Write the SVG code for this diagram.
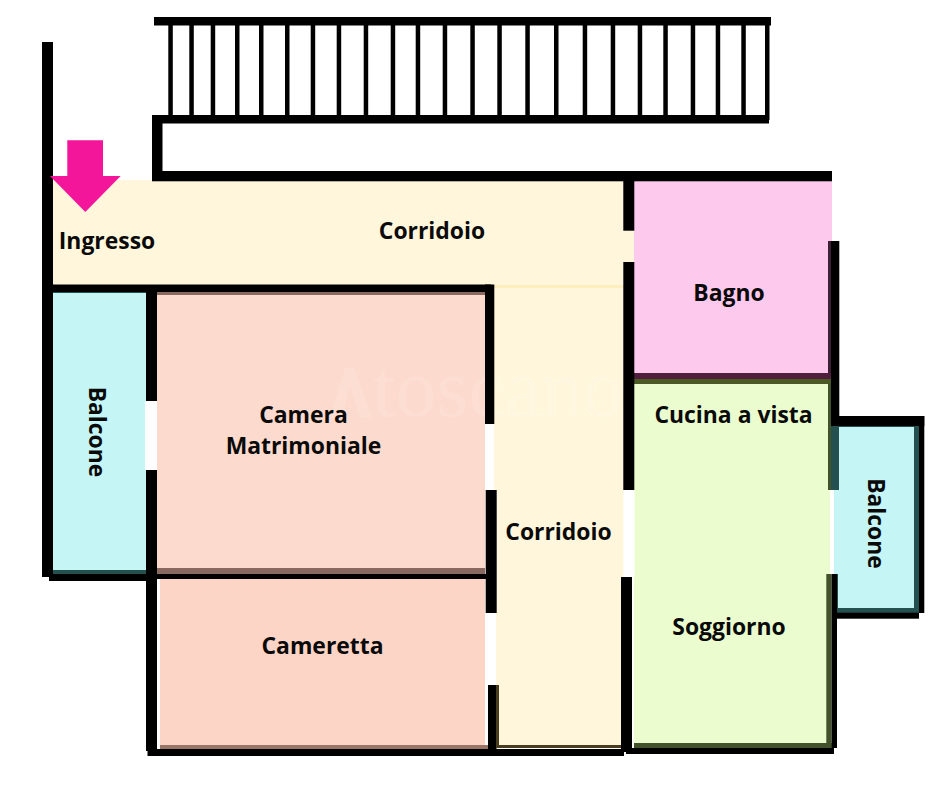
<svg xmlns="http://www.w3.org/2000/svg" width="940" height="788" viewBox="0 0 940 788">
<style>
.w{fill:#000}
.lbl{font-family:"Open Sans","Noto Sans","DejaVu Sans",sans-serif;font-weight:700;font-size:22.9px;fill:#0a0a0a;text-anchor:middle}
.st{fill:#000;y:20px;width:4.5px;height:100px}
</style>
<rect width="940" height="788" fill="#fff"/>
<g id="rooms">
<g id="corridoio-top"><path d="M53 180H152V181H634V262H623V285H53Z" fill="#fff6dc"/></g>
<g id="corridoio-side"><rect x="492" y="285" width="132" height="463" fill="#fff6dc"/><rect x="492" y="285" width="132" height="3" fill="#fdeebd"/><rect x="497" y="745" width="127" height="3" fill="#4a3d1f"/></g>
<g id="bagno"><rect x="634" y="181" width="198" height="192" fill="#fdc9ec"/><rect x="634" y="373" width="197" height="6" fill="#4f1f3d"/></g>
<g id="soggiorno"><rect x="634" y="379" width="197" height="369" fill="#ebfdcf"/><rect x="634" y="379" width="197" height="5" fill="#4b5a24"/><rect x="634" y="743" width="198" height="5" fill="#42522a"/></g>
<g id="camera"><rect x="157" y="290" width="328" height="284" fill="#fcdacd"/><rect x="157" y="290" width="328" height="5" fill="#8a6a60"/><rect x="157" y="568" width="328" height="6" fill="#8a6a60"/></g>
<g id="cameretta"><rect x="160" y="579" width="325" height="170" fill="#fcd5c6"/><rect x="160" y="745" width="328" height="4" fill="#9a7668"/></g>
<g id="balcone-l"><rect x="49" y="292" width="98" height="282" fill="#255050"/><rect x="53" y="293" width="93" height="277" fill="#c5f5f5"/><rect x="145" y="401" width="5" height="69" fill="#fff"/></g>
<g id="balcone-r"><rect x="833" y="425" width="86" height="188" fill="#255050"/><rect x="838" y="427" width="76" height="181" fill="#c5f5f5"/><rect x="834" y="490" width="10" height="84" fill="#c5f5f5"/></g>
</g>
<g id="watermark" fill="#fff" fill-opacity=".12">
<polygon points="330,418 345,368 354,368 372,418 360,418 350,385 342,418"/>
<text x="498" y="416" font-family="Liberation Serif,serif" font-size="82" text-anchor="middle">toscano</text>
</g>
<g id="connectors">
<g id="stairs">
<rect class="w" x="154" y="17" width="617" height="8.5"/>
<rect class="w" x="152" y="115" width="617" height="8.5"/>
<rect class="st" x="168.3"/><rect class="st" x="189.3"/><rect class="st" x="210.7"/><rect class="st" x="235"/><rect class="st" x="259"/><rect class="st" x="285"/><rect class="st" x="310.7"/><rect class="st" x="336.7"/><rect class="st" x="363.7"/><rect class="st" x="390.7"/><rect class="st" x="415.7"/><rect class="st" x="442.7"/><rect class="st" x="470.3"/><rect class="st" x="497.3"/><rect class="st" x="525.3"/><rect class="st" x="554"/><rect class="st" x="582.7"/><rect class="st" x="610.7"/><rect class="st" x="637.7"/><rect class="st" x="663.3"/><rect class="st" x="690.7"/><rect class="st" x="715.7"/><rect class="st" x="741.3"/><rect class="st" x="765"/>
</g>
<g id="walls">
<rect class="w" x="42" y="42" width="11" height="535"/>
<rect class="w" x="152" y="115" width="10.500" height="66"/>
<rect class="w" x="152" y="171" width="680" height="10.300"/>
<rect class="w" x="49" y="284.500" width="442" height="7.500"/>
<rect class="w" x="49" y="574" width="98" height="7"/>
<rect class="w" x="146" y="292" width="11" height="109"/>
<rect class="w" x="146" y="470" width="11" height="281"/>
<rect class="w" x="157" y="574" width="330" height="5"/>
<rect class="w" x="147.500" y="749" width="476.500" height="7"/>
<rect class="w" x="626" y="748" width="208" height="6"/>
<rect class="w" x="485" y="284.500" width="9.300" height="139.500"/>
<rect class="w" x="485.700" y="490" width="11" height="123"/>
<rect class="w" x="488" y="685" width="8.500" height="64"/>
<rect x="496" y="685" width="3" height="63" fill="#4a3d1f"/>
<rect class="w" x="623.300" y="181" width="11" height="49.700"/>
<rect class="w" x="623.300" y="262" width="11" height="228"/>
<rect class="w" x="621" y="577" width="11" height="175"/>
<rect x="828" y="241" width="3" height="132" fill="#3f1f35"/>
<rect x="828" y="384" width="3" height="106" fill="#42522a"/>
<rect class="w" x="831" y="241" width="8.300" height="175"/>
<rect x="831" y="426" width="8" height="64" fill="#255050"/>
<rect class="w" x="831" y="416" width="93.300" height="10"/>
<rect class="w" x="919" y="416" width="5.300" height="197"/>
<rect class="w" x="833" y="612.700" width="86" height="6"/>
<rect x="826.300" y="574" width="5.400" height="174" fill="#42522a"/>
<rect class="w" x="831.700" y="574" width="5.300" height="174"/>
<rect x="830" y="490" width="4" height="84" fill="#fff"/>
</g>
<g id="openings">
<rect x="623.500" y="490" width="11" height="87" fill="#fff"/>
<rect x="485" y="424" width="9" height="66" fill="#fff"/>
<rect x="485" y="613" width="11" height="72" fill="#fff"/>
</g>
</g>
<g id="arrow"><polygon points="67.300,140.300 103,140.300 103,176 120.700,176 85.300,212 50,176 67.300,176" fill="#f3169b"/></g>
<g id="labels">
<text class="lbl" x="107" y="248.500">Ingresso</text>
<text class="lbl" x="432" y="238.500">Corridoio</text>
<text class="lbl" x="729" y="300.500">Bagno</text>
<text class="lbl" x="733.500" y="423">Cucina a vista</text>
<text class="lbl" x="303.500" y="423">Camera</text>
<text class="lbl" x="303.500" y="454">Matrimoniale</text>
<text class="lbl" x="558.500" y="540">Corridoio</text>
<text class="lbl" x="322.500" y="654">Cameretta</text>
<text class="lbl" x="729" y="635">Soggiorno</text>
<text class="lbl" transform="translate(88.500 432) rotate(90)">Balcone</text>
<text class="lbl" transform="translate(867.500 523.500) rotate(90)">Balcone</text>
</g>
</svg>
